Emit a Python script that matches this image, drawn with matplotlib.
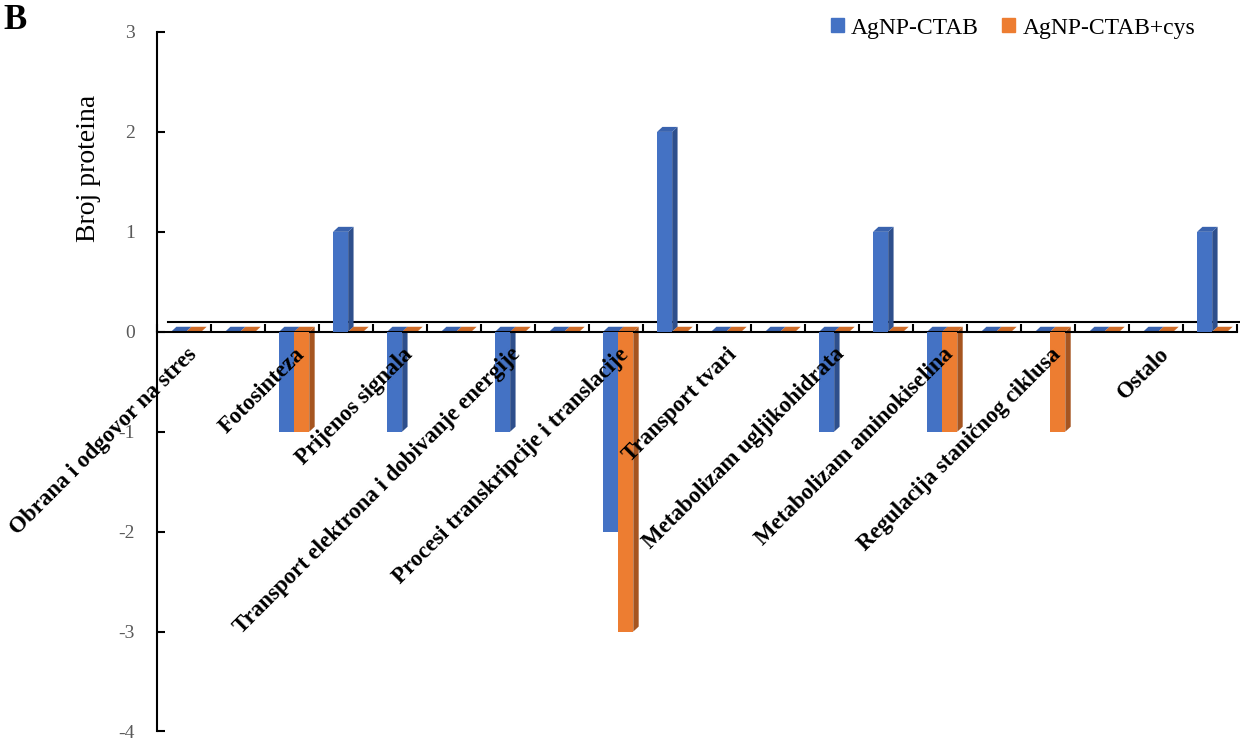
import matplotlib.pyplot as plt
from matplotlib.patches import Polygon, Patch
import numpy as np

plt.rcParams['font.family'] = ['Liberation Serif', 'DejaVu Serif']
plt.rcParams['axes.unicode_minus'] = False

# 20 categories on the axis, only every other one carries a visible label
labels = ['Obrana i odgovor na stres', '', 'Fotosinteza', '', 'Prijenos signala', '',
          'Transport elektrona i dobivanje energije', '', 'Procesi transkripcije i translacije', '',
          'Transport tvari', '', 'Metabolizam ugljikohidrata', '', 'Metabolizam aminokiselina', '',
          'Regulacija staničnog ciklusa', '', 'Ostalo', '']
ctab = [0, 0, -1, 1, -1, 0, -1, 0, -2, 2, 0, 0, -1, 1, -1, 0, 0, 0, 0, 1]
ctab_cys = [0, 0, -1, 0, 0, 0, 0, 0, -3, 0, 0, 0, 0, 0, -1, 0, -1, 0, 0, 0]
series = ['AgNP-CTAB', 'AgNP-CTAB+cys']

front = ['#4472C4', '#ED7D31']
side = ['#2E4F8C', '#A65520']
topc = ['#3A63AE', '#D06C28']

fig = plt.figure(figsize=(12.4, 7.4), dpi=100)
ax = fig.add_axes([0.1266, 0.0115, 0.8710, 0.9453])

n = len(labels)
centers = np.arange(n) + 0.5
w = 0.28
dx, dy = 0.1, 0.05
offsets = [-0.1, 0.18]

# back floor line of the 3D chart
ax.plot([0.2, 20.2], [0.1, 0.1], color='black', lw=1.5, zorder=1, clip_on=False)

for k, vals in enumerate([ctab, ctab_cys]):
    xs = centers + offsets[k]
    ax.bar(xs, vals, width=w, color=front[k], zorder=3, linewidth=0)
    for x, v in zip(xs, vals):
        x0, x1 = x - w / 2, x + w / 2
        if v != 0:
            ax.add_patch(Polygon([(x1, 0), (x1 + dx, dy), (x1 + dx, v + dy), (x1, v)],
                                 closed=True, color=side[k], lw=0, zorder=2))
        ytop = max(v, 0)
        ax.add_patch(Polygon([(x0, ytop), (x0 + dx, ytop + dy), (x1 + dx, ytop + dy), (x1, ytop)],
                             closed=True, color=topc[k], lw=0, zorder=2))

ax.set_xlim(0, n)
ax.set_ylim(-4, 3)
ax.set_yticks(range(-4, 4))
ax.set_xticks(range(0, n + 1))
ax.set_xticklabels([])
ax.spines['bottom'].set_position(('data', 0))
ax.spines['top'].set_visible(False)
ax.spines['right'].set_visible(False)
for s in ['left', 'bottom']:
    ax.spines[s].set_linewidth(1.5)
ax.tick_params(axis='y', direction='in', length=6, width=1.5, pad=16,
               labelsize=14, labelcolor='#595959')
ax.tick_params(axis='x', direction='in', length=6, width=1.5)

for c, lab in zip(centers, labels):
    if lab:
        ax.text(c + 0.04, -0.12, lab, rotation=45, rotation_mode='anchor',
                ha='right', va='top', fontsize=16.5, fontweight='bold', zorder=4)

fig.text(0.071, 0.773, 'Broj proteina', rotation=90, ha='center', va='center', fontsize=20)
fig.text(0.003, 0.994, 'B', ha='left', va='top', fontsize=25, fontweight='bold')

handles = [Patch(color=front[0]), Patch(color=front[1])]
fig.legend(handles, series, loc='upper right', bbox_to_anchor=(0.981, 1.005), ncol=2,
           frameon=False, fontsize=17, handlelength=0.55, handleheight=0.55,
           handletextpad=0.3, columnspacing=1.0)

plt.savefig('out.png', dpi=100)
